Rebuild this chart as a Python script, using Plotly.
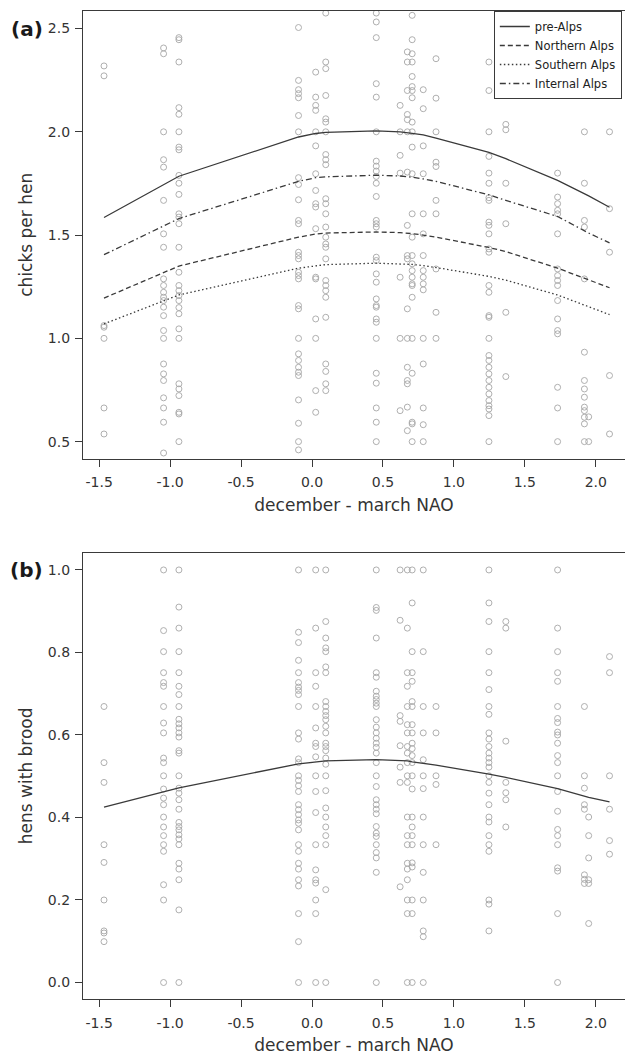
import plotly.graph_objects as go

# ---------------- data ----------------
nao = [-1.466, -1.046, -0.938, -0.095, 0.026, 0.097, 0.453, 0.621, 0.672,
       0.706, 0.784, 0.874, 1.247, 1.366, 1.731, 1.920, 1.950, 2.097]

chicks_per_hen = [
    [2.319, 2.271, 1.062, 1.054, 1.0, 0.663, 0.537],
    [2.406, 2.378, 2.0, 1.865, 1.829, 1.668, 1.506, 1.441, 1.288, 1.256, 1.223, 1.199, 1.183, 1.151,
     1.110, 1.038, 1.0, 0.876, 0.828, 0.796, 0.712, 0.663, 0.594, 0.445],
    [2.456, 2.446, 2.338, 2.117, 2.085, 2.0, 1.926, 1.913, 1.789, 1.751, 1.697, 1.603, 1.587, 1.555,
     1.441, 1.320, 1.256, 1.231, 1.207, 1.183, 1.149, 1.119, 1.046, 1.0, 0.780, 0.755, 0.723, 0.642,
     0.634, 0.5],
    [2.505, 2.249, 2.204, 2.185, 2.165, 2.079, 2.0, 1.778, 1.745, 1.671, 1.571, 1.555, 1.417, 1.401,
     1.385, 1.320, 1.304, 1.288, 1.159, 1.143, 1.0, 0.925, 0.893, 0.860, 0.836, 0.820, 0.702, 0.589,
     0.5, 0.46],
    [2.289, 2.168, 2.128, 2.104, 2.0, 1.932, 1.797, 1.716, 1.652, 1.636, 1.531, 1.296, 1.288, 1.094,
     1.0, 0.747, 0.642],
    [2.575, 2.338, 2.306, 2.176, 2.063, 2.047, 2.0, 1.890, 1.865, 1.841, 1.676, 1.652, 1.603, 1.539,
     1.490, 1.457, 1.441, 1.385, 1.280, 1.256, 1.231, 1.199, 1.102, 0.876, 0.840, 0.780, 0.747],
    [2.575, 2.532, 2.456, 2.233, 2.168, 2.0, 1.858, 1.834, 1.810, 1.784, 1.751, 1.687, 1.571, 1.555,
     1.539, 1.393, 1.377, 1.312, 1.272, 1.191, 1.159, 1.151, 1.094, 1.078, 1.0, 0.831, 0.783, 0.663,
     0.594, 0.5],
    [2.128, 2.0, 1.886, 1.800, 1.296, 1.0, 0.650],
    [2.387, 2.338, 2.200, 2.084, 2.059, 2.0, 1.805, 1.547, 1.401, 1.385, 1.143, 1.0, 0.860, 0.796,
     0.780, 0.667, 0.553],
    [2.564, 2.446, 2.378, 2.338, 2.268, 2.219, 2.200, 2.165, 2.047, 2.0, 1.926, 1.797, 1.603, 1.490,
     1.401, 1.361, 1.328, 1.296, 1.264, 1.256, 1.199, 1.0, 0.831, 0.594, 0.586, 0.5],
    [2.204, 2.112, 1.932, 1.797, 1.603, 1.506, 1.401, 1.328, 1.296, 1.264, 1.235, 1.0, 0.876, 0.663,
     0.582, 0.5],
    [2.354, 2.163, 2.0, 1.853, 1.832, 1.668, 1.603, 1.336, 1.126, 1.0],
    [2.338, 2.200, 2.0, 1.881, 1.800, 1.751, 1.681, 1.668, 1.563, 1.547, 1.506, 1.433, 1.417, 1.256,
     1.223, 1.110, 1.102, 1.0, 0.917, 0.893, 0.860, 0.828, 0.796, 0.763, 0.731, 0.699, 0.674, 0.658,
     0.626, 0.5],
    [2.036, 2.010, 1.751, 1.555, 1.126, 0.815],
    [2.185, 1.800, 1.684, 1.652, 1.620, 1.603, 1.506, 1.336, 1.304, 1.280, 1.256, 1.183, 1.094, 1.038,
     1.022, 0.763, 0.663, 0.5],
    [2.0, 1.751, 1.571, 1.539, 1.288, 0.933, 0.796, 0.755, 0.715, 0.667, 0.650, 0.618, 0.586, 0.5],
    [0.62, 0.5],
    [2.0, 1.628, 1.417, 0.820, 0.537],
]

hens_with_brood = [
    [0.669, 0.533, 0.485, 0.334, 0.291, 0.200, 0.125, 0.120, 0.099],
    [1.0, 0.853, 0.802, 0.751, 0.727, 0.718, 0.669, 0.629, 0.605, 0.544, 0.533, 0.501, 0.469, 0.447,
     0.431, 0.401, 0.377, 0.356, 0.334, 0.318, 0.237, 0.2, 0.0],
    [1.0, 0.910, 0.859, 0.802, 0.751, 0.718, 0.698, 0.669, 0.638, 0.627, 0.617, 0.605, 0.595, 0.562,
     0.556, 0.501, 0.471, 0.459, 0.443, 0.420, 0.388, 0.378, 0.370, 0.358, 0.348, 0.334, 0.289, 0.275,
     0.249, 0.176, 0.0],
    [1.0, 0.849, 0.824, 0.781, 0.751, 0.727, 0.716, 0.708, 0.698, 0.669, 0.605, 0.590, 0.542, 0.533,
     0.501, 0.490, 0.477, 0.463, 0.431, 0.419, 0.407, 0.394, 0.386, 0.370, 0.334, 0.318, 0.289, 0.275,
     0.249, 0.234, 0.167, 0.099, 0.0],
    [1.0, 0.859, 0.751, 0.718, 0.669, 0.617, 0.580, 0.572, 0.547, 0.501, 0.463, 0.412, 0.334, 0.273,
     0.249, 0.241, 0.2, 0.167, 0.0],
    [1.0, 0.875, 0.835, 0.811, 0.802, 0.765, 0.751, 0.681, 0.669, 0.657, 0.647, 0.637, 0.621, 0.605,
     0.580, 0.572, 0.562, 0.544, 0.529, 0.501, 0.465, 0.423, 0.401, 0.377, 0.356, 0.334, 0.225, 0.0],
    [1.0, 0.909, 0.902, 0.835, 0.751, 0.740, 0.706, 0.694, 0.686, 0.677, 0.669, 0.637, 0.619, 0.605,
     0.592, 0.580, 0.570, 0.556, 0.533, 0.501, 0.475, 0.443, 0.431, 0.420, 0.409, 0.378, 0.362, 0.354,
     0.334, 0.315, 0.302, 0.267, 0.0],
    [1.0, 0.878, 0.647, 0.633, 0.574, 0.522, 0.485, 0.232],
    [1.0, 0.859, 0.751, 0.718, 0.669, 0.625, 0.605, 0.572, 0.556, 0.533, 0.501, 0.485, 0.401, 0.356,
     0.334, 0.289, 0.275, 0.249, 0.2, 0.167, 0.0],
    [1.0, 0.920, 0.802, 0.751, 0.730, 0.681, 0.669, 0.625, 0.605, 0.580, 0.567, 0.550, 0.533, 0.501,
     0.469, 0.401, 0.377, 0.356, 0.334, 0.290, 0.280, 0.2, 0.167, 0.0],
    [1.0, 0.802, 0.669, 0.605, 0.540, 0.501, 0.470, 0.401, 0.334, 0.267, 0.2, 0.125, 0.111, 0.0],
    [0.669, 0.605, 0.501, 0.480, 0.334],
    [1.0, 0.920, 0.875, 0.802, 0.751, 0.710, 0.669, 0.650, 0.605, 0.590, 0.572, 0.556, 0.544, 0.533,
     0.522, 0.501, 0.485, 0.459, 0.431, 0.401, 0.389, 0.356, 0.334, 0.318, 0.200, 0.190, 0.125],
    [0.875, 0.859, 0.585, 0.485, 0.460, 0.443, 0.377],
    [1.0, 0.859, 0.802, 0.751, 0.730, 0.669, 0.640, 0.630, 0.607, 0.600, 0.580, 0.550, 0.533, 0.501,
     0.463, 0.415, 0.371, 0.356, 0.334, 0.278, 0.270, 0.167, 0.0],
    [0.669, 0.501, 0.471, 0.431, 0.420, 0.261, 0.250, 0.240],
    [0.401, 0.356, 0.302, 0.249, 0.240, 0.143],
    [0.790, 0.751, 0.501, 0.420, 0.344, 0.311],
]

fit_pre_alps = [1.585, 1.745, 1.785, 1.975, 1.992, 1.997, 2.005, 2.000, 1.997,
                1.993, 1.985, 1.970, 1.900, 1.870, 1.765, 1.700, 1.690, 1.635]
fit_northern = [1.195, 1.320, 1.350, 1.490, 1.505, 1.510, 1.515, 1.512, 1.510,
                1.507, 1.500, 1.490, 1.440, 1.420, 1.340, 1.290, 1.282, 1.245]
fit_southern = [1.070, 1.180, 1.210, 1.340, 1.352, 1.357, 1.364, 1.362, 1.360,
                1.358, 1.352, 1.343, 1.300, 1.282, 1.210, 1.160, 1.153, 1.115]
fit_internal = [1.405, 1.545, 1.580, 1.760, 1.778, 1.782, 1.790, 1.786, 1.783,
                1.780, 1.772, 1.760, 1.695, 1.668, 1.590, 1.520, 1.510, 1.462]
fit_brood = [0.425, 0.462, 0.472, 0.530, 0.535, 0.537, 0.540, 0.538, 0.537,
             0.535, 0.532, 0.527, 0.505, 0.497, 0.470, 0.452, 0.449, 0.438]

x_tickvals = [-1.5, -1.0, -0.5, 0.0, 0.5, 1.0, 1.5, 2.0]
x_ticktext = ["-1.5", "-1.0", "-0.5", "0.0", "0.5", "1.0", "1.5", "2.0"]
ya_tickvals = [0.5, 1.0, 1.5, 2.0, 2.5]
ya_ticktext = ["0.5", "1.0", "1.5", "2.0", "2.5"]
yb_tickvals = [0.0, 0.2, 0.4, 0.6, 0.8, 1.0]
yb_ticktext = ["0.0", "0.2", "0.4", "0.6", "0.8", "1.0"]

# ---------------- figure ----------------
FONT = "DejaVu Sans"
TXT = "#333333"
LINE = "#3a3a3a"
PT = "#a6a6a6"


def flatten(cols):
    xs, ys = [], []
    for xv, vals in zip(nao, cols):
        for v in vals:
            xs.append(xv)
            ys.append(v)
    return xs, ys


fig = go.Figure()

ax, ay = flatten(chicks_per_hen)
fig.add_trace(go.Scatter(x=ax, y=ay, mode="markers", xaxis="x", yaxis="y", showlegend=False,
                         marker=dict(symbol="circle-open", size=6, color=PT,
                                     line=dict(color=PT, width=0.9)), hoverinfo="skip"))
bx, by = flatten(hens_with_brood)
fig.add_trace(go.Scatter(x=bx, y=by, mode="markers", xaxis="x2", yaxis="y2", showlegend=False,
                         marker=dict(symbol="circle-open", size=6, color=PT,
                                     line=dict(color=PT, width=0.9)), hoverinfo="skip"))

fits = [("pre-Alps", fit_pre_alps, "solid"),
        ("Northern Alps", fit_northern, "5px,3px"),
        ("Southern Alps", fit_southern, "1.5px,2.5px"),
        ("Internal Alps", fit_internal, "6px,3px,1.5px,3px")]
for name, vals, dash in fits:
    fig.add_trace(go.Scatter(x=nao, y=vals, mode="lines", name=name, xaxis="x", yaxis="y",
                             line=dict(color=LINE, width=1.3, dash=dash)))

fig.add_trace(go.Scatter(x=nao, y=fit_brood, mode="lines", xaxis="x2", yaxis="y2",
                         showlegend=False, line=dict(color=LINE, width=1.3)))

common_x = dict(range=[-1.614, 2.206], tickvals=x_tickvals, ticktext=x_ticktext,
                ticks="outside", ticklen=7, tickwidth=1, tickcolor=LINE,
                showline=True, linecolor=LINE, linewidth=1.2, mirror=True,
                showgrid=False, zeroline=False, ticklabelstandoff=4,
                tickfont=dict(family=FONT, size=14, color=TXT),
                title=dict(text="december - march NAO", font=dict(family=FONT, size=17, color=TXT),
                           standoff=9))
common_y = dict(ticks="outside", ticklen=7, tickwidth=1, tickcolor=LINE,
                showline=True, linecolor=LINE, linewidth=1.2, mirror=False,
                showgrid=False, zeroline=False, ticklabelstandoff=2,
                tickfont=dict(family=FONT, size=14, color=TXT))

fig.update_layout(
    width=625, height=1060,
    margin=dict(l=83.4, r=0, t=10.7, b=60.7),
    paper_bgcolor="white", plot_bgcolor="white",
    xaxis=dict(domain=[0, 1], anchor="y", **common_x),
    xaxis2=dict(domain=[0, 1], anchor="y2", **common_x),
    yaxis=dict(domain=[0.547, 1], anchor="x", range=[0.418, 2.585],
               tickvals=ya_tickvals, ticktext=ya_ticktext,
               title=dict(text="chicks per hen", font=dict(family=FONT, size=17, color=TXT),
                          standoff=10),
               **common_y),
    yaxis2=dict(domain=[0, 0.4518], anchor="x2", range=[-0.040, 1.042],
                tickvals=yb_tickvals, ticktext=yb_ticktext,
                title=dict(text="hens with brood", font=dict(family=FONT, size=17, color=TXT),
                           standoff=10),
                **common_y),
    legend=dict(x=0.758, y=1, xanchor="left", yanchor="top",
                bgcolor="white", bordercolor=LINE, borderwidth=1,
                font=dict(family=FONT, size=11.5, color="#222222"),
                itemwidth=30, tracegroupgap=0),
    annotations=[
        dict(text="<b>(a)</b>", xref="paper", yref="paper", x=-0.104, y=0.9815,
             xanchor="center", yanchor="middle", showarrow=False,
             font=dict(family=FONT, size=20, color="#1a1a1a")),
        dict(text="<b>(b)</b>", xref="paper", yref="paper", x=-0.104, y=0.4343,
             xanchor="center", yanchor="middle", showarrow=False,
             font=dict(family=FONT, size=20, color="#1a1a1a")),
    ],
    showlegend=True,
)

fig.write_html(
    "out.html",
    config={"displayModeBar": False},
    post_script="document.body.style.margin='0';document.body.style.padding='0';"
                "document.body.style.overflow='hidden';",
)
